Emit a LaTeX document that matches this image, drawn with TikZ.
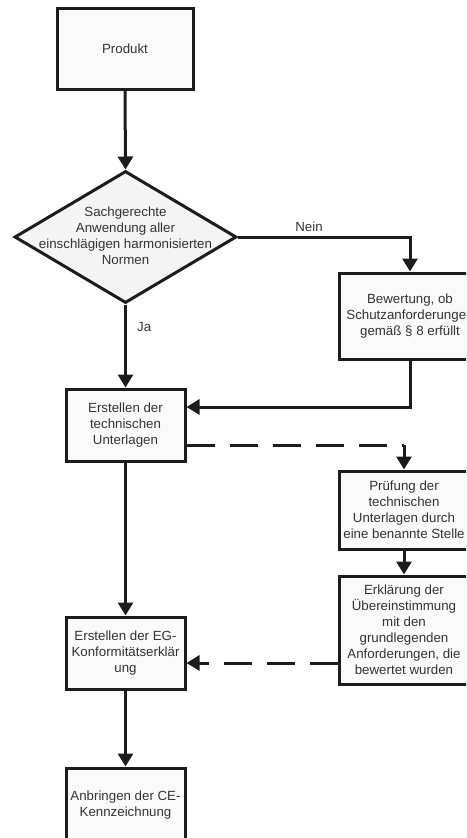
\documentclass[tikz,border=0pt]{standalone}
\usepackage{fontspec}
\setmainfont{Liberation Sans}
\usetikzlibrary{shapes.geometric,arrows.meta}
\definecolor{linec}{HTML}{1C1C1C}
\definecolor{textc}{HTML}{333333}
\definecolor{boxfill}{HTML}{FAFAFA}
\definecolor{diafill}{HTML}{F4F4F4}
\tikzset{
  base/.style={draw=linec, line width=3pt, text=textc, inner sep=0pt, align=center,
    font=\fontsize{13.3}{16}\selectfont},
  stepbox/.style={base, rectangle, fill=boxfill},
  decision/.style={base, diamond, fill=diafill, minimum width=222pt, minimum height=132pt},
  arr/.style={draw=linec, line width=3pt, -{Triangle[length=13pt,width=15pt]}},
  plain/.style={draw=linec, line width=3pt},
  dasharr/.style={arr, dash pattern=on 28pt off 15pt},
  dashplain/.style={plain, dash pattern=on 28pt off 15pt},
  lbl/.style={text=textc, font=\fontsize{13.3}{16}\selectfont, inner sep=0pt}
}
\begin{document}
\begin{tikzpicture}[x=1pt,y=-1pt]
\path[use as bounding box] (0,0) rectangle (466,838);
\clip (0,0) rectangle (466,838);
\node[stepbox, minimum width=136pt, minimum height=81pt] (prod) at (125,48.5) {Produkt};
\node[decision] (dia) at (125.5,237) {\makebox[0pt]{\begin{tabular}{@{}c@{}}Sachgerechte\\Anwendung aller\\einschlägigen harmonisierten\\Normen\end{tabular}}};
\node[stepbox, minimum width=142pt, minimum height=86pt] (bew) at (410,316) {Bewertung, ob\\Schutzanforderungen\\gemäß § 8 erfüllt};
\node[stepbox, minimum width=119pt, minimum height=72pt] (tech) at (125.5,425) {Erstellen der\\technischen\\Unterlagen};
\node[stepbox, minimum width=130pt, minimum height=78pt] (pruef) at (404,510) {Prüfung der\\technischen\\Unterlagen durch\\eine benannte Stelle};
\node[stepbox, minimum width=130pt, minimum height=108pt] (erkl) at (404,630) {Erklärung der\\Übereinstimmung\\mit den\\grundlegenden\\Anforderungen, die\\bewertet wurden};
\node[stepbox, minimum width=119pt, minimum height=72pt] (eg) at (125.5,653) {Erstellen der EG-\\Konformitätserklär\\ung};
\node[stepbox, minimum width=119pt, minimum height=74pt] (ce) at (125.5,805) {Anbringen der CE-\\Kennzeichnung};

\draw[arr] (prod.south) -- (dia.north);
\draw[arr] (dia.east) -| (bew.north);
\node[lbl] (nein) at (309,227) {Nein};
\draw[arr] (dia.south) -- (tech.north);
\node[lbl, anchor=west] (ja) at (137,327) {Ja};
\draw[arr] (bew.south) |- ([yshift=18pt]tech.east);
\coordinate (c1) at (404,445);
\draw[dashplain] ([yshift=-20pt]tech.east) -- (c1);
\draw[arr] (c1) -- (pruef.north);
\draw[arr] (pruef.south) -- (erkl.north);
\draw[dasharr] ([yshift=-33pt]erkl.west) -- ([yshift=-10pt]eg.east);
\draw[arr] (tech.south) -- (eg.north);
\draw[arr] (eg.south) -- (ce.north);
\end{tikzpicture}
\end{document}
